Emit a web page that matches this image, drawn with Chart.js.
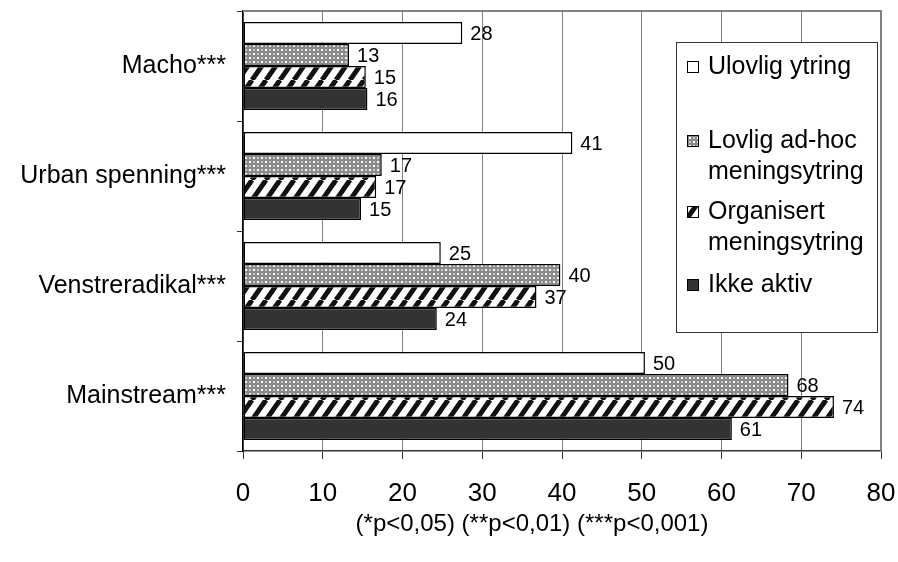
<!DOCTYPE html>
<html>
<head>
<meta charset="utf-8">
<script src="https://cdn.jsdelivr.net/npm/chart.js@4"></script>
<style>
  html, body { margin: 0; padding: 0; background: #fff; }
  #wrap { width: 898px; height: 562px; }
</style>
</head>
<body>
<div id="wrap"><canvas id="grafico" width="898" height="562"></canvas></div>
<script>
var kategorier = ['Macho***', 'Urban spenning***', 'Venstreradikal***', 'Mainstream***'];
var serieNavn = [['Ulovlig ytring'], ['Lovlig ad-hoc', 'meningsytring'], ['Organisert', 'meningsytring'], ['Ikke aktiv']];
var ulovlig = [27.5, 41.3, 24.8, 50.4];
var adhoc = [13.3, 17.4, 39.8, 68.4];
var organisert = [15.4, 16.7, 36.8, 74.1];
var ikkeAktiv = [15.6, 14.8, 24.3, 61.3];
var xTicks = [0, 10, 20, 30, 40, 50, 60, 70, 80];
var fotnote = '(*p<0,05) (**p<0,01) (***p<0,001)';

var FONT = '"Liberation Sans", Arial, sans-serif';

// fyllmonster
function prikker() {
    var c = document.createElement('canvas');
    c.width = 8; c.height = 8;
    var g = c.getContext('2d');
    g.fillStyle = '#8a8a8a';
    g.fillRect(0, 0, 8, 8);
    g.fillStyle = '#ffffff';
    g.fillRect(1, 1, 2, 2);
    g.fillRect(5, 5, 2, 2);
    g.fillStyle = '#c4c4c4';
    g.fillRect(5, 1, 2, 2);
    g.fillRect(1, 5, 2, 2);
    return g.createPattern(c, 'repeat');
}

function striper() {
    var c = document.createElement('canvas');
    c.width = 14; c.height = 20;
    var g = c.getContext('2d');
    g.fillStyle = '#ffffff';
    g.fillRect(0, 0, 14, 20);
    g.strokeStyle = '#111111';
    g.lineWidth = 5;
    [-14, 0, 14].forEach(function (dx) {
        g.beginPath();
        g.moveTo(dx, 20);
        g.lineTo(dx + 14, 0);
        g.stroke();
    });
    return g.createPattern(c, 'repeat');
}

var fyll = ['#ffffff', prikker(), striper(), '#333333'];
var serier = [ulovlig, adhoc, organisert, ikkeAktiv];

// tall ved enden av stolpene
var verdiEtiketter = {
    id: 'verdiEtiketter',
    afterDatasetsDraw: function (chart) {
        var ctx = chart.ctx;
        ctx.save();
        ctx.font = '20px ' + FONT;
        ctx.fillStyle = '#000';
        ctx.textAlign = 'left';
        ctx.textBaseline = 'middle';
        chart.data.datasets.forEach(function (ds, i) {
            chart.getDatasetMeta(i).data.forEach(function (el, j) {
                ctx.fillText(String(Math.round(ds.data[j])), el.x + 8, el.y + 1);
            });
        });
        ctx.restore();
    }
};

// ramme oppe og til hoyre
var ramme = {
    id: 'ramme',
    beforeDatasetsDraw: function (chart) {
        var a = chart.chartArea;
        var ctx = chart.ctx;
        ctx.save();
        ctx.strokeStyle = '#808080';
        ctx.lineWidth = 2;
        ctx.beginPath();
        ctx.moveTo(a.left, a.top);
        ctx.lineTo(a.right, a.top);
        ctx.lineTo(a.right, a.bottom);
        ctx.stroke();
        ctx.restore();
    }
};

// forklaring inne i plottet + fotnote
var forklaring = {
    id: 'forklaring',
    afterDraw: function (chart) {
        var ctx = chart.ctx;
        var bx = 676, by = 42, bw = 201, bh = 290;
        ctx.save();
        ctx.fillStyle = '#fff';
        ctx.fillRect(bx, by, bw, bh);
        ctx.strokeStyle = '#333';
        ctx.lineWidth = 1;
        ctx.strokeRect(bx + 0.5, by + 0.5, bw, bh);
        ctx.font = '25px ' + FONT;
        ctx.textAlign = 'left';
        ctx.textBaseline = 'middle';
        var start = [67, 141, 212, 285];
        chart.data.datasets.forEach(function (ds, i) {
            var y = start[i];
            ctx.fillStyle = ds.backgroundColor;
            ctx.fillRect(687, y - 6, 12, 12);
            ctx.strokeStyle = '#000';
            ctx.lineWidth = 1;
            ctx.strokeRect(687.5, y - 5.5, 11, 11);
            ctx.fillStyle = '#000';
            serieNavn[i].forEach(function (linje, k) {
                ctx.fillText(linje, 708, y + k * 31);
            });
        });
        ctx.textAlign = 'center';
        ctx.font = '24px ' + FONT;
        ctx.fillText(fotnote, 532, 524);
        ctx.restore();
    }
};

var grafico = new Chart(document.getElementById('grafico').getContext('2d'), {
    type: 'bar',
    data: {
        labels: kategorier,
        datasets: serier.map(function (d, i) {
            return {
                label: serieNavn[i].join(' '),
                data: d,
                backgroundColor: fyll[i],
                borderColor: '#000000',
                borderWidth: 1.5,
                borderSkipped: false,
                categoryPercentage: 0.8,
                barPercentage: 1.0
            };
        })
    },
    options: {
        indexAxis: 'y',
        responsive: false,
        animation: false,
        layout: { padding: { top: 11, right: 17, left: 0, bottom: 0 } },
        plugins: {
            legend: { display: false },
            tooltip: { enabled: false }
        },
        scales: {
            x: {
                min: 0,
                max: 80,
                afterBuildTicks: function (s) {
                    s.ticks = xTicks.map(function (v) { return { value: v }; });
                },
                afterFit: function (s) {
                    s.height = 111;
                    s.paddingLeft = 0;
                    s.paddingRight = 0;
                },
                grid: {
                    color: '#808080',
                    lineWidth: 1,
                    tickColor: '#333',
                    tickLength: 8
                },
                border: { color: '#333', width: 1.5 },
                ticks: {
                    color: '#000',
                    font: { family: FONT, size: 26 },
                    padding: 19,
                    maxRotation: 0
                }
            },
            y: {
                afterFit: function (s) {
                    s.width = 243;
                    s.paddingTop = 0;
                    s.paddingBottom = 0;
                },
                grid: {
                    drawOnChartArea: false,
                    tickLength: 6,
                    tickColor: '#333',
                    offset: true
                },
                border: { color: '#000', width: 1.5 },
                ticks: {
                    color: '#000',
                    font: { family: FONT, size: 25 },
                    padding: 11
                }
            }
        }
    },
    plugins: [ramme, verdiEtiketter, forklaring]
});
</script>
</body>
</html>
